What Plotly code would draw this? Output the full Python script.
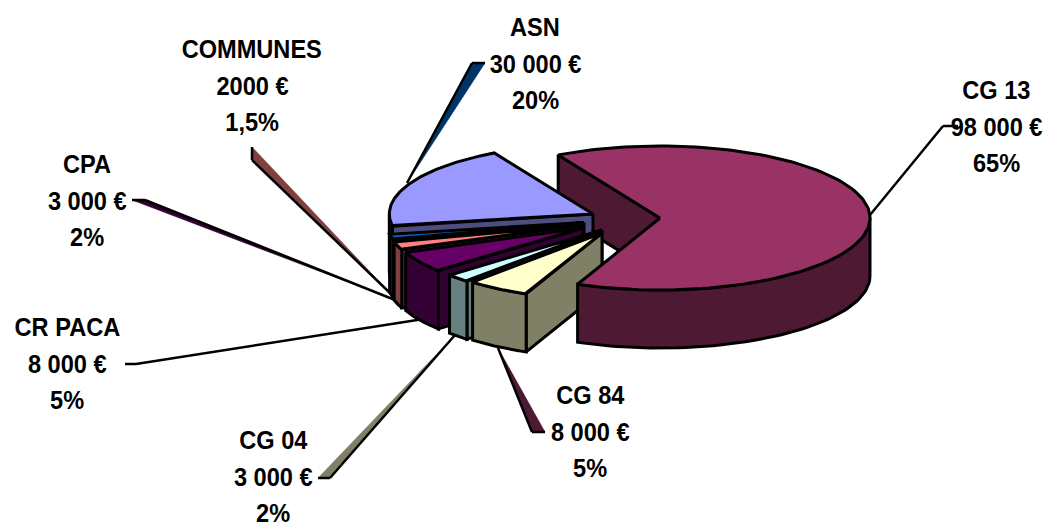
import math
import plotly.graph_objects as go

# --- data ---
categories = ["CG 13", "CG 84", "CG 04", "CR PACA", "CPA", "COMMUNES", "ASN"]
amounts = [98000, 8000, 3000, 8000, 3000, 2000, 30000]
amount_labels = ["98 000 €", "8 000 €", "3 000 €", "8 000 €", "3 000 €", "2000 €", "30 000 €"]
percent_labels = ["65%", "5%", "2%", "5%", "2%", "1,5%", "20%"]

# --- style / layout ---
top_colors = ["#993366", "#FFFFCC", "#CCFFFF", "#660066", "#FF8080", "#0066CC", "#9999FF"]
side_colors = ["#4D1933", "#808066", "#668080", "#330033", "#804040", "#003366", "#4D4D80"]
apex_x = [660, 602, 602, 583, 583, 584, 593]
apex_y = [218, 233, 230, 228, 225, 222.5, 214]
radius = [1.0, 0.92, 0.96, 0.91, 0.93, 0.94, 0.97]
RX, RY, DEPTH = 210, 72, 58
START_ANGLE = 331
LW = 3
FONT = "Liberation Sans"
FS = 26.5
label_pos = [(996, 90), (590, 395), (273, 440), (67, 327), (87, 164), (252, 49), (535, 27)]
LINE_STEP = 36.5

leaders = [
    ([870, 943, 958], [215, 126, 126], None),
    ([545, 532, 498], [432, 432, 348], "#4D1933"),
    ([318, 330, 455], [478, 478, 335], "#808066"),
    ([125, 136, 430], [364, 364, 318], None),
    ([132, 145, 395], [200, 200, 300], "#330033"),
    ([252, 252, 390], [147, 160, 293], "#804040"),
    ([485, 472, 407], [63, 63, 183], "#003366"),
]

fig = go.Figure()


def poly(xs, ys, fill):
    fig.add_trace(go.Scatter(
        x=xs, y=ys, mode="lines", fill="toself", fillcolor=fill,
        line=dict(color="black", width=LW), hoverinfo="skip", showlegend=False))


total = sum(amounts)
spans = []
a = START_ANGLE
for v in amounts:
    spans.append((a, a + v / total * 360))
    a += v / total * 360


def geom(i):
    a0, a1 = spans[i]
    ax, ay, r = apex_x[i], apex_y[i], radius[i]

    def pt(deg, dz=0):
        t = math.radians(deg)
        return ax + r * RX * math.sin(t), ay - r * RY * math.cos(t) + dz
    return ax, ay, pt, a0, a1


def arc(a0, a1, n=60):
    return [a0 + (a1 - a0) * k / n for k in range(n + 1)]


def draw_start_face(i):
    ax, ay, pt, a0, a1 = geom(i)
    p = pt(a0)
    q = pt(a0, DEPTH)
    poly([ax, p[0], q[0], ax, ax], [ay, p[1], q[1], ay + DEPTH, ay], side_colors[i])


def draw_wall(i):
    ax, ay, pt, a0, a1 = geom(i)
    for base in (0, 360):
        lo, hi = max(a0, 90 + base), min(a1, 270 + base)
        if hi > lo:
            top = [pt(d) for d in arc(lo, hi)]
            bot = [pt(d, DEPTH) for d in arc(hi, lo)]
            pts = top + bot + [top[0]]
            poly([p[0] for p in pts], [p[1] for p in pts], side_colors[i])


def draw_top(i):
    ax, ay, pt, a0, a1 = geom(i)
    pts = [(ax, ay)] + [pt(d) for d in arc(a0, a1, 120)] + [(ax, ay)]
    poly([p[0] for p in pts], [p[1] for p in pts], top_colors[i])


# leaders (behind the pie)
for xs, ys, wedge in leaders:
    if wedge:
        fig.add_trace(go.Scatter(x=xs + [xs[0]], y=ys + [ys[0]], mode="lines", fill="toself",
                                 fillcolor=wedge, line=dict(color=wedge, width=0.5),
                                 hoverinfo="skip", showlegend=False))
    fig.add_trace(go.Scatter(x=xs[1:] if not wedge else xs[1:], y=ys[1:], mode="lines",
                             line=dict(color="black", width=2.5), hoverinfo="skip", showlegend=False))
    fig.add_trace(go.Scatter(x=xs[:2], y=ys[:2], mode="lines",
                             line=dict(color="black", width=2.5), hoverinfo="skip", showlegend=False))

# painter's order: back face of the big slice, small slices, then big slice
draw_start_face(0)
for i in [6, 5, 4, 3, 2, 1]:
    draw_start_face(i)
    draw_wall(i)
    draw_top(i)
draw_wall(0)
draw_top(0)

annotations = []
for i, (x, y) in enumerate(label_pos):
    for j, txt in enumerate([categories[i], amount_labels[i], percent_labels[i]]):
        annotations.append(dict(x=x, y=y + j * LINE_STEP, text=f"<b>{txt}</b>", showarrow=False,
                                xanchor="center", yanchor="middle",
                                font=dict(family=FONT, size=FS, color="black")))

fig.update_layout(
    width=1047, height=527, margin=dict(l=0, r=0, t=0, b=0),
    paper_bgcolor="white", plot_bgcolor="white", showlegend=False,
    xaxis=dict(range=[0, 1047], visible=False, fixedrange=True),
    yaxis=dict(range=[527, 0], visible=False, fixedrange=True),
    annotations=annotations,
)
condense = """
document.body.style.margin='0';document.body.style.overflow='hidden';
document.querySelectorAll('.annotation-text').forEach(function(t){
  var b=t.getBBox();var c=b.x+b.width/2;
  t.setAttribute('transform','translate('+c+',0) scale(0.89,1) translate('+(-c)+',0)');
});
"""
fig.write_html("out.html", config={"displayModeBar": False}, post_script=condense)
